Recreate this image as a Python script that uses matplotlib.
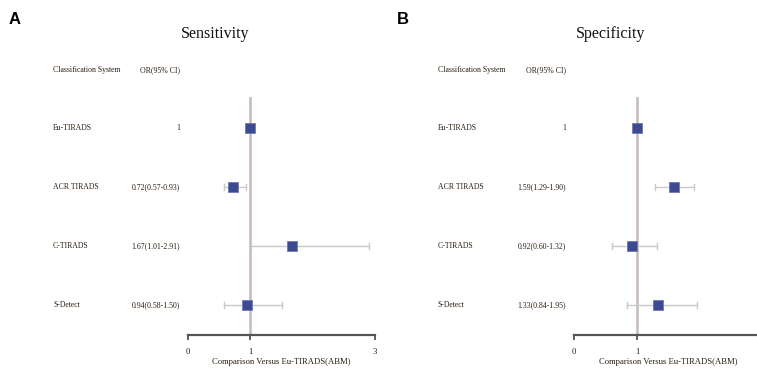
import matplotlib
matplotlib.use("Agg")
import matplotlib.pyplot as plt
from matplotlib.transforms import blended_transform_factory

systems = ["Eu-TIRADS", "ACR TIRADS", "C-TIRADS", "S-Detect"]

sens_or = [1.0, 0.72, 1.67, 0.94]
sens_lo = [1.0, 0.57, 1.01, 0.58]
sens_hi = [1.0, 0.93, 2.91, 1.50]
sens_txt = ["1", "0.72(0.57-0.93)", "1.67(1.01-2.91)", "0.94(0.58-1.50)"]

spec_or = [1.0, 1.59, 0.92, 1.33]
spec_lo = [1.0, 1.29, 0.60, 0.84]
spec_hi = [1.0, 1.90, 1.32, 1.95]
spec_txt = ["1", "1.59(1.29-1.90)", "0.92(0.60-1.32)", "1.33(0.84-1.95)"]

sens_ticks = [0, 1, 3]
spec_ticks = [0, 1]
xlabel = "Comparison Versus Eu-TIRADS(ABM)"

W, H = 757, 369
fig = plt.figure(figsize=(W / 100, H / 100), dpi=100)
SERIF = ["Liberation Serif", "DejaVu Serif"]
TXT = "#2a1e12"
MK = "#3d4a92"
CI = "#c9c9c9"
VL = "#c4bbb5"


def fx(px):
    return px / W


def fy(py):
    return 1 - py / H


def panel(x0, x3, letter, lx, title, tcx, ors, los, his, txts, colx, valx, ticks):
    left = fx(x0)
    width = fx(x3 - x0)
    bottom = fy(335)
    height = fy(97) - bottom
    ax = fig.add_axes([left, bottom, width, height])
    ax.set_xlim(0, 3)
    ypos = [4, 3, 2, 1]
    ax.set_ylim(0.49, 4.525)
    ax.axvline(1, color=VL, lw=1.8, zorder=1)
    for y, o, lo, hi in zip(ypos, ors, los, his):
        if hi > lo:
            ax.plot([lo, hi], [y, y], color=CI, lw=1, zorder=2)
            for c in (lo, hi):
                ax.plot([c, c], [y - 0.05, y + 0.05], color=CI, lw=1, zorder=2)
        ax.plot([o], [y], marker="s", ms=6.8, color=MK, mec="#6f79b3", mew=0.6,
                ls="none", zorder=3)
    for s in ("left", "right", "top"):
        ax.spines[s].set_visible(False)
    ax.spines["bottom"].set_color("#555555")
    ax.spines["bottom"].set_linewidth(1.6)
    ax.set_yticks([])
    ax.set_xticks(ticks)
    ax.set_xticklabels([str(t) for t in ticks], family=SERIF, fontsize=6.2, color=TXT)
    ax.tick_params(axis="x", length=3.5, width=1.2, color="#444444", pad=6)
    ax.set_xlabel(xlabel, family=SERIF, fontsize=6.2, color=TXT, labelpad=1)
    ax.patch.set_alpha(0)

    tr = blended_transform_factory(fig.transFigure, ax.transData)
    for y, name, t in zip(ypos, systems, txts):
        ax.text(fx(colx), y, name, transform=tr, family=SERIF, fontsize=5.6,
                color=TXT, ha="left", va="center")
        ax.text(fx(valx), y, t, transform=tr, family=SERIF, fontsize=5.6,
                color=TXT, ha="right", va="center")
    fig.text(fx(colx), fy(70), "Classification System", family=SERIF, fontsize=5.6,
             color=TXT, ha="left", va="center")
    fig.text(fx(valx), fy(70), "OR(95% CI)", family=SERIF, fontsize=5.6,
             color=TXT, ha="right", va="center")
    fig.text(fx(tcx), fy(34), title, family=SERIF, fontsize=11.5, color="#111111",
             ha="center", va="center")
    fig.text(fx(lx), fy(20), letter, family=["Liberation Sans", "DejaVu Sans"],
             fontsize=12, fontweight="bold", color="black", ha="left", va="center")
    return ax


panel(188, 375, "A", 9, "Sensitivity", 215, sens_or, sens_lo, sens_hi, sens_txt,
      53, 180, sens_ticks)
panel(574, 763, "B", 397, "Specificity", 611, spec_or, spec_lo, spec_hi, spec_txt,
      438, 566, spec_ticks)

fig.savefig("out.png", dpi=100)
